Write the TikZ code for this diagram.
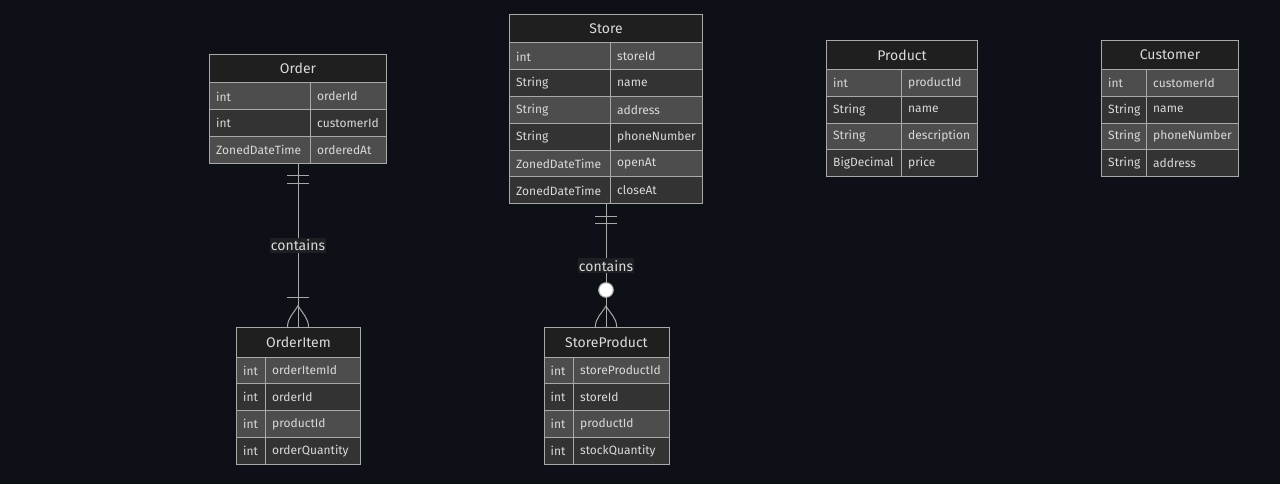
\documentclass[tikz,border=0pt]{standalone}
\usepackage{fontspec}
\setmainfont{Fira Sans}
\usetikzlibrary{calc}
\definecolor{erbg}{HTML}{0D1117}
\definecolor{erline}{HTML}{A9A9A9}
\definecolor{erhead}{HTML}{1F1F1F}
\definecolor{erodd}{HTML}{4D4D4D}
\definecolor{ereven}{HTML}{333333}
\definecolor{ertext}{HTML}{DADADA}
\definecolor{erlabel}{HTML}{1E1F22}
\begin{document}
\begin{tikzpicture}[x=1pt,y=1pt,
	every node/.style={inner sep=0pt},
	frame/.style={draw=erline, line width=1pt, anchor=north west},
	head/.style={frame, fill=erhead, text=ertext, font=\fontsize{14}{16}\selectfont, minimum height=28.5pt},
	cell/.style={frame, text=ertext, font=\fontsize{12}{14}\selectfont, inner xsep=6.7pt, align=left, text width=#1, minimum height=26.8pt},
	oddrow/.style={fill=erodd},
	evenrow/.style={fill=ereven},
	rel/.style={draw=erline, line width=1pt},
	lbl/.style={fill=erlabel, text=ertext, font=\fontsize{14}{16}\selectfont, inner xsep=1pt, inner ysep=2pt}]
	\fill [erbg] (0,0) rectangle (1280,-484);
	\useasboundingbox (0,0) rectangle (1280,-484);
	\node [frame, minimum width=177pt, minimum height=108.9pt] (order) at (209,-54) {};
	\node [head, minimum width=177pt] (order-h) at (209,-54) {Order};
	\node [cell=87.6pt, oddrow] (order-t1) at (209,-82.5) {int};
	\node [cell=62.6pt, oddrow] (order-n1) at (310,-82.5) {orderId};
	\node [cell=87.6pt, evenrow] (order-t2) at (209,-109.3) {int};
	\node [cell=62.6pt, evenrow] (order-n2) at (310,-109.3) {customerId};
	\node [cell=87.6pt, oddrow] (order-t3) at (209,-136.1) {ZonedDateTime};
	\node [cell=62.6pt, oddrow] (order-n3) at (310,-136.1) {orderedAt};
	\node [frame, minimum width=193pt, minimum height=189.3pt] (store) at (509,-14) {};
	\node [head, minimum width=193pt] (store-h) at (509,-14) {Store};
	\node [cell=87.6pt, oddrow] (store-t1) at (509,-42.5) {int};
	\node [cell=78.6pt, oddrow] (store-n1) at (610,-42.5) {storeId};
	\node [cell=87.6pt, evenrow] (store-t2) at (509,-69.3) {String};
	\node [cell=78.6pt, evenrow] (store-n2) at (610,-69.3) {name};
	\node [cell=87.6pt, oddrow] (store-t3) at (509,-96.1) {String};
	\node [cell=78.6pt, oddrow] (store-n3) at (610,-96.1) {address};
	\node [cell=87.6pt, evenrow] (store-t4) at (509,-122.9) {String};
	\node [cell=78.6pt, evenrow] (store-n4) at (610,-122.9) {phoneNumber};
	\node [cell=87.6pt, oddrow] (store-t5) at (509,-149.7) {ZonedDateTime};
	\node [cell=78.6pt, oddrow] (store-n5) at (610,-149.7) {openAt};
	\node [cell=87.6pt, evenrow] (store-t6) at (509,-176.5) {ZonedDateTime};
	\node [cell=78.6pt, evenrow] (store-n6) at (610,-176.5) {closeAt};
	\node [frame, minimum width=151pt, minimum height=136.2pt] (product) at (826,-40) {};
	\node [head, minimum width=151pt, minimum height=29pt] (product-h) at (826,-40) {Product};
	\node [cell=61.6pt, oddrow] (product-t1) at (826,-69) {int};
	\node [cell=62.6pt, oddrow] (product-n1) at (901,-69) {productId};
	\node [cell=61.6pt, evenrow] (product-t2) at (826,-95.8) {String};
	\node [cell=62.6pt, evenrow] (product-n2) at (901,-95.8) {name};
	\node [cell=61.6pt, oddrow] (product-t3) at (826,-122.6) {String};
	\node [cell=62.6pt, oddrow] (product-n3) at (901,-122.6) {description};
	\node [cell=61.6pt, evenrow] (product-t4) at (826,-149.4) {BigDecimal};
	\node [cell=62.6pt, evenrow] (product-n4) at (901,-149.4) {price};
	\node [frame, minimum width=137pt, minimum height=136.2pt] (customer) at (1101,-40) {};
	\node [head, minimum width=137pt, minimum height=29pt] (customer-h) at (1101,-40) {Customer};
	\node [cell=31.6pt, oddrow] (customer-t1) at (1101,-69) {int};
	\node [cell=78.6pt, oddrow] (customer-n1) at (1146,-69) {customerId};
	\node [cell=31.6pt, evenrow] (customer-t2) at (1101,-95.8) {String};
	\node [cell=78.6pt, evenrow] (customer-n2) at (1146,-95.8) {name};
	\node [cell=31.6pt, oddrow] (customer-t3) at (1101,-122.6) {String};
	\node [cell=78.6pt, oddrow] (customer-n3) at (1146,-122.6) {phoneNumber};
	\node [cell=31.6pt, evenrow] (customer-t4) at (1101,-149.4) {String};
	\node [cell=78.6pt, evenrow] (customer-n4) at (1146,-149.4) {address};
	\node [frame, minimum width=124pt, minimum height=136.4pt] (orderitem) at (236,-327.3) {};
	\node [head, minimum width=124pt, minimum height=29.2pt] (orderitem-h) at (236,-327.3) {OrderItem};
	\node [cell=15.6pt, oddrow] (orderitem-t1) at (236,-356.5) {int};
	\node [cell=81.6pt, oddrow] (orderitem-n1) at (265,-356.5) {orderItemId};
	\node [cell=15.6pt, evenrow] (orderitem-t2) at (236,-383.3) {int};
	\node [cell=81.6pt, evenrow] (orderitem-n2) at (265,-383.3) {orderId};
	\node [cell=15.6pt, oddrow] (orderitem-t3) at (236,-410.1) {int};
	\node [cell=81.6pt, oddrow] (orderitem-n3) at (265,-410.1) {productId};
	\node [cell=15.6pt, evenrow] (orderitem-t4) at (236,-436.9) {int};
	\node [cell=81.6pt, evenrow] (orderitem-n4) at (265,-436.9) {orderQuantity};
	\node [frame, minimum width=125pt, minimum height=136.4pt] (storeproduct) at (543.5,-327.3) {};
	\node [head, minimum width=125pt, minimum height=29.2pt] (storeproduct-h) at (543.5,-327.3) {StoreProduct};
	\node [cell=16.1pt, oddrow] (storeproduct-t1) at (543.5,-356.5) {int};
	\node [cell=82.1pt, oddrow] (storeproduct-n1) at (573,-356.5) {storeProductId};
	\node [cell=16.1pt, evenrow] (storeproduct-t2) at (543.5,-383.3) {int};
	\node [cell=82.1pt, evenrow] (storeproduct-n2) at (573,-383.3) {storeId};
	\node [cell=16.1pt, oddrow] (storeproduct-t3) at (543.5,-410.1) {int};
	\node [cell=82.1pt, oddrow] (storeproduct-n3) at (573,-410.1) {productId};
	\node [cell=16.1pt, evenrow] (storeproduct-t4) at (543.5,-436.9) {int};
	\node [cell=82.1pt, evenrow] (storeproduct-n4) at (573,-436.9) {stockQuantity};
	\coordinate (oi-end) at (order.south |- orderitem.north);
	\coordinate (sp-end) at (store.south |- storeproduct.north);
	\draw [rel] (order.south) -- (oi-end) node [midway, lbl] {contains};
	\draw [rel] ($(order.south)+(-11,-11.5)$) -- ++(22,0);
	\draw [rel] ($(order.south)+(-11,-19.2)$) -- ++(22,0);
	\draw [rel] ($(oi-end)+(-11,29.6)$) -- ++(22,0);
	\draw [rel] ($(oi-end)+(-10.5,0)$) to [out=90,in=-120] ($(oi-end)+(0,21.6)$) to [out=-60,in=90] ($(oi-end)+(10.5,0)$);
	\draw [rel] (store.south) -- (sp-end) node [midway, lbl] {contains};
	\draw [rel] ($(store.south)+(-11,-11.7)$) -- ++(22,0);
	\draw [rel] ($(store.south)+(-11,-19.4)$) -- ++(22,0);
	\draw [rel] ($(sp-end)+(-10.7,0)$) to [out=90,in=-120] ($(sp-end)+(0,21.3)$) to [out=-60,in=90] ($(sp-end)+(10.7,0)$);
	\draw [rel, fill=white] ($(sp-end)+(0,37.3)$) circle (7.3);
\end{tikzpicture}
\end{document}
